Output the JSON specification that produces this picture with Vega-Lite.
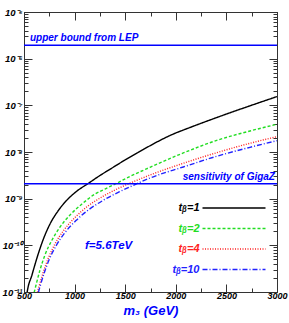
{
  "$schema": "https://vega.github.io/schema/vega-lite/v6.json",
  "width": 253,
  "height": 280,
  "autosize": "none",
  "padding": {"left": 24, "top": 12, "right": 12, "bottom": 31},
  "background": "white",
  "config": {
    "view": {"stroke": "#333", "strokeWidth": 1},
    "font": "Liberation Sans",
    "axis": {"grid": false, "domainColor": "#333", "tickColor": "#333", "labelColor": "#000",
      "labelFont": "Liberation Sans", "labelFontSize": 9, "labelFontStyle": "italic", "labelFontWeight": "bold"}
  },
  "datasets": {
    "curves": [
      {"tb": "1", "m": 520, "v": 6.5e-12}, {"tb": "1", "m": 530, "v": 9.5e-12}, {"tb": "1", "m": 579, "v": 2.32e-11},
      {"tb": "1", "m": 628, "v": 5.36e-11}, {"tb": "1", "m": 688, "v": 1.30e-10}, {"tb": "1", "m": 757, "v": 2.87e-10},
      {"tb": "1", "m": 836, "v": 5.44e-10}, {"tb": "1", "m": 925, "v": 9.37e-10}, {"tb": "1", "m": 1024, "v": 1.46e-9},
      {"tb": "1", "m": 1133, "v": 2.11e-9}, {"tb": "1", "m": 1251, "v": 3.14e-9}, {"tb": "1", "m": 1370, "v": 4.54e-9},
      {"tb": "1", "m": 1498, "v": 6.74e-9}, {"tb": "1", "m": 1646, "v": 1.03e-8}, {"tb": "1", "m": 1795, "v": 1.56e-8},
      {"tb": "1", "m": 1943, "v": 2.26e-8}, {"tb": "1", "m": 2140, "v": 3.35e-8}, {"tb": "1", "m": 2338, "v": 4.85e-8},
      {"tb": "1", "m": 2535, "v": 6.92e-8}, {"tb": "1", "m": 2733, "v": 9.77e-8}, {"tb": "1", "m": 3000, "v": 1.54e-7},
      {"tb": "2", "m": 585, "v": 6e-12}, {"tb": "2", "m": 596, "v": 8.6e-12}, {"tb": "2", "m": 619, "v": 1.41e-11},
      {"tb": "2", "m": 658, "v": 2.96e-11}, {"tb": "2", "m": 707, "v": 6.21e-11}, {"tb": "2", "m": 777, "v": 1.30e-10},
      {"tb": "2", "m": 856, "v": 2.47e-10}, {"tb": "2", "m": 955, "v": 4.47e-10}, {"tb": "2", "m": 1073, "v": 7.69e-10},
      {"tb": "2", "m": 1202, "v": 1.26e-9}, {"tb": "2", "m": 1300, "v": 1.61e-9}, {"tb": "2", "m": 1416, "v": 2.14e-9},
      {"tb": "2", "m": 1547, "v": 2.99e-9}, {"tb": "2", "m": 1745, "v": 4.70e-9}, {"tb": "2", "m": 2074, "v": 9.53e-9},
      {"tb": "2", "m": 2404, "v": 1.77e-8}, {"tb": "2", "m": 2733, "v": 2.82e-8}, {"tb": "2", "m": 3000, "v": 3.93e-8},
      {"tb": "4", "m": 618, "v": 6e-12}, {"tb": "4", "m": 628, "v": 8.6e-12}, {"tb": "4", "m": 653, "v": 1.41e-11},
      {"tb": "4", "m": 688, "v": 2.55e-11}, {"tb": "4", "m": 737, "v": 5.09e-11}, {"tb": "4", "m": 806, "v": 1.07e-10},
      {"tb": "4", "m": 895, "v": 2.13e-10}, {"tb": "4", "m": 1004, "v": 3.95e-10}, {"tb": "4", "m": 1132, "v": 6.97e-10},
      {"tb": "4", "m": 1271, "v": 1.09e-9}, {"tb": "4", "m": 1429, "v": 1.65e-9}, {"tb": "4", "m": 1590, "v": 2.35e-9},
      {"tb": "4", "m": 1745, "v": 3.21e-9}, {"tb": "4", "m": 2074, "v": 5.73e-9}, {"tb": "4", "m": 2404, "v": 9.66e-9},
      {"tb": "4", "m": 2733, "v": 1.54e-8}, {"tb": "4", "m": 3000, "v": 2.13e-8},
      {"tb": "10", "m": 628, "v": 6e-12}, {"tb": "10", "m": 638, "v": 8.6e-12}, {"tb": "10", "m": 663, "v": 1.41e-11},
      {"tb": "10", "m": 698, "v": 2.49e-11}, {"tb": "10", "m": 747, "v": 4.85e-11}, {"tb": "10", "m": 816, "v": 9.7e-11},
      {"tb": "10", "m": 905, "v": 1.88e-10}, {"tb": "10", "m": 1014, "v": 3.4e-10}, {"tb": "10", "m": 1142, "v": 5.86e-10},
      {"tb": "10", "m": 1280, "v": 9.14e-10}, {"tb": "10", "m": 1439, "v": 1.39e-9}, {"tb": "10", "m": 1597, "v": 2.01e-9},
      {"tb": "10", "m": 1745, "v": 2.77e-9}, {"tb": "10", "m": 2074, "v": 4.78e-9}, {"tb": "10", "m": 2404, "v": 8.09e-9},
      {"tb": "10", "m": 2733, "v": 1.26e-8}, {"tb": "10", "m": 3000, "v": 1.75e-8}
    ],
    "bounds": [
      {"label": "upper bound from LEP", "v": 1.95e-6},
      {"label": "sensitivity of GigaZ", "v": 2.1e-9}
    ]
  },
  "resolve": {"scale": {"x": "shared", "y": "shared"}, "axis": {"x": "independent", "y": "independent"}},
  "layer": [
    {
      "data": {"name": "curves"},
      "mark": {"type": "line", "clip": true, "interpolate": "monotone", "strokeWidth": 1.4},
      "encoding": {
        "x": {"field": "m", "type": "quantitative",
          "scale": {"domain": [500, 3000], "nice": false, "zero": false},
          "axis": {"orient": "bottom", "format": "d",
            "values": [500, 750, 1000, 1250, 1500, 1750, 2000, 2250, 2500, 2750, 3000],
            "labelExpr": "datum.value % 500 == 0 ? datum.label : ''",
            "tickSize": {"condition": {"test": "datum.value % 500 == 0", "value": -8}, "value": -4},
            "labelPadding": 7, "labelOverlap": false, "labelFlush": false,
            "title": "m₃ (GeV)", "titleColor": "#0000ff", "titleFont": "Liberation Sans", "titleFontSize": 13,
            "titleFontStyle": "italic", "titleFontWeight": "bold", "titlePadding": 0}},
        "y": {"field": "v", "type": "quantitative",
          "scale": {"type": "log", "domain": [1e-11, 1e-5], "nice": false},
          "axis": {"orient": "left", "title": null,
            "values": [1e-11, 2e-11, 3e-11, 4e-11, 5e-11, 6e-11, 7e-11, 8e-11, 9e-11,
                       1e-10, 2e-10, 3e-10, 4e-10, 5e-10, 6e-10, 7e-10, 8e-10, 9e-10,
                       1e-9, 2e-9, 3e-9, 4e-9, 5e-9, 6e-9, 7e-9, 8e-9, 9e-9,
                       1e-8, 2e-8, 3e-8, 4e-8, 5e-8, 6e-8, 7e-8, 8e-8, 9e-8,
                       1e-7, 2e-7, 3e-7, 4e-7, 5e-7, 6e-7, 7e-7, 8e-7, 9e-7,
                       1e-6, 2e-6, 3e-6, 4e-6, 5e-6, 6e-6, 7e-6, 8e-6, 9e-6, 1e-5],
            "labelExpr": "indexof([1e-11,1e-10,1e-9,1e-8,1e-7,1e-6,1e-5], datum.value) >= 0 ? ['10⁻¹¹','10⁻¹⁰','10⁻⁹','10⁻⁸','10⁻⁷','10⁻⁶','10⁻⁵'][indexof([1e-11,1e-10,1e-9,1e-8,1e-7,1e-6,1e-5], datum.value)] : ''",
            "tickSize": {"condition": {"test": "indexof([1e-11,1e-10,1e-9,1e-8,1e-7,1e-6,1e-5], datum.value) >= 0", "value": -8}, "value": -4},
            "labelPadding": 10, "labelFontSize": 9.5, "labelOverlap": false, "labelFlush": false}},
        "color": {"field": "tb", "type": "nominal",
          "scale": {"domain": ["1", "2", "4", "10"], "range": ["#000000", "#22dd22", "#ff2222", "#2222ff"]},
          "legend": {"orient": "none", "legendX": 204.5, "legendY": 190.5, "title": null, "padding": 0,
            "symbolType": "M-7,0H7", "symbolSize": 81, "symbolStrokeWidth": 1.4, "labelOffset": -40, "labelAlign": "right",
            "labelFont": "Liberation Sans", "labelFontSize": 11, "labelFontWeight": "bold", "labelFontStyle": "italic",
            "rowPadding": 8.5, "labelLimit": 0, "labelExpr": "'tᵦ=' + datum.label",
            "encode": {"labels": {"update": {"fill": {"signal": "scale('color', datum.value)"}}}}}},
        "strokeDash": {"field": "tb", "type": "nominal",
          "scale": {"domain": ["1", "2", "4", "10"], "range": [[1, 0], [3, 2], [1, 1.5], [5, 2, 1, 2]]},
          "legend": {"orient": "none", "legendX": 204.5, "legendY": 190.5, "title": null, "padding": 0,
            "symbolType": "M-7,0H7", "symbolSize": 81, "symbolStrokeWidth": 1.4, "labelOffset": -40, "labelAlign": "right",
            "labelFont": "Liberation Sans", "labelFontSize": 11, "labelFontWeight": "bold", "labelFontStyle": "italic",
            "rowPadding": 8.5, "labelLimit": 0, "labelExpr": "'tᵦ=' + datum.label",
            "encode": {"labels": {"update": {"fill": {"signal": "scale('color', datum.value)"}}}}}}
      }
    },
    {
      "data": {"name": "curves"},
      "mark": {"type": "point", "opacity": 0},
      "encoding": {
        "x": {"field": "m", "type": "quantitative",
          "axis": {"orient": "top", "title": null, "labels": false,
            "values": [500, 750, 1000, 1250, 1500, 1750, 2000, 2250, 2500, 2750, 3000],
            "tickSize": {"condition": {"test": "datum.value % 500 == 0", "value": -8}, "value": -4}}},
        "y": {"field": "v", "type": "quantitative",
          "axis": {"orient": "right", "title": null, "labels": false,
            "values": [1e-11, 2e-11, 3e-11, 4e-11, 5e-11, 6e-11, 7e-11, 8e-11, 9e-11,
                       1e-10, 2e-10, 3e-10, 4e-10, 5e-10, 6e-10, 7e-10, 8e-10, 9e-10,
                       1e-9, 2e-9, 3e-9, 4e-9, 5e-9, 6e-9, 7e-9, 8e-9, 9e-9,
                       1e-8, 2e-8, 3e-8, 4e-8, 5e-8, 6e-8, 7e-8, 8e-8, 9e-8,
                       1e-7, 2e-7, 3e-7, 4e-7, 5e-7, 6e-7, 7e-7, 8e-7, 9e-7,
                       1e-6, 2e-6, 3e-6, 4e-6, 5e-6, 6e-6, 7e-6, 8e-6, 9e-6, 1e-5],
            "tickSize": {"condition": {"test": "indexof([1e-11,1e-10,1e-9,1e-8,1e-7,1e-6,1e-5], datum.value) >= 0", "value": -8}, "value": -4}}}
      }
    },
    {
      "data": {"name": "bounds"},
      "mark": {"type": "rule", "color": "#0000ff", "strokeWidth": 1.5},
      "encoding": {"y": {"field": "v", "type": "quantitative", "axis": null}}
    },
    {
      "data": {"name": "bounds"},
      "transform": [{"filter": "datum.label == 'upper bound from LEP'"}],
      "mark": {"type": "text", "align": "left", "baseline": "alphabetic", "dy": -4, "color": "#0000ff",
        "font": "Liberation Sans", "fontSize": 10, "fontStyle": "italic", "fontWeight": "bold"},
      "encoding": {"x": {"datum": 559, "type": "quantitative", "axis": null},
        "y": {"field": "v", "type": "quantitative", "axis": null}, "text": {"field": "label"}}
    },
    {
      "data": {"name": "bounds"},
      "transform": [{"filter": "datum.label == 'sensitivity of GigaZ'"}],
      "mark": {"type": "text", "align": "right", "baseline": "alphabetic", "dy": -4, "color": "#0000ff",
        "font": "Liberation Sans", "fontSize": 10, "fontStyle": "italic", "fontWeight": "bold"},
      "encoding": {"x": {"datum": 2980, "type": "quantitative", "axis": null},
        "y": {"field": "v", "type": "quantitative", "axis": null}, "text": {"field": "label"}}
    },
    {
      "data": {"values": [{"label": "f=5.6TeV", "m": 1103, "v": 8.4e-11}]},
      "mark": {"type": "text", "align": "left", "baseline": "alphabetic", "color": "#0000ff",
        "font": "Liberation Sans", "fontSize": 11.5, "fontStyle": "italic", "fontWeight": "bold"},
      "encoding": {"x": {"field": "m", "type": "quantitative", "axis": null},
        "y": {"field": "v", "type": "quantitative", "axis": null}, "text": {"field": "label"}}
    }
  ]
}
